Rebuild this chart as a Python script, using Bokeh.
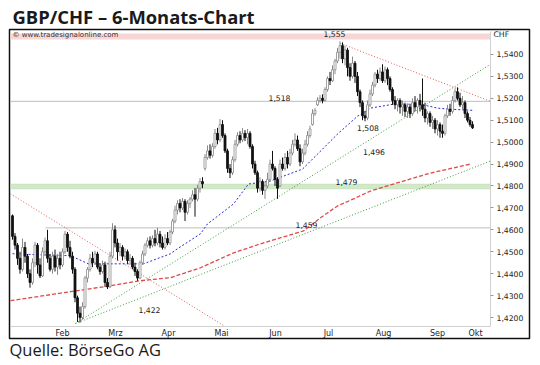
import numpy as np
from bokeh.plotting import figure
from bokeh.models import (Range1d, FixedTicker, CustomJSTickFormatter, BoxAnnotation,
                          Label, Title, ColumnDataSource, LinearAxis)
from bokeh.core.properties import value
from bokeh.embed import file_html
from bokeh.resources import INLINE

# ---------------- data ----------------
opens = [1.4664,1.4570,1.4530,1.4470,1.4420,1.4520,1.4480,1.4400,1.4360,1.4450,
         1.4530,1.4440,1.4390,1.4500,1.4550,1.4470,1.4420,1.4480,1.4430,1.4470,
         1.4440,1.4500,1.4580,1.4520,1.4480,1.4420,1.4290,1.4220,1.4200,1.4250,
         1.4380,1.4420,1.4470,1.4450,1.4490,1.4430,1.4410,1.4440,1.4360,1.4340,
         1.4480,1.4600,1.4540,1.4500,1.4520,1.4480,1.4500,1.4460,1.4470,1.4430,
         1.4410,1.4380,1.4450,1.4490,1.4530,1.4550,1.4530,1.4560,1.4540,1.4580,
         1.4540,1.4520,1.4560,1.4540,1.4590,1.4640,1.4690,1.4720,1.4700,1.4730,
         1.4680,1.4720,1.4740,1.4760,1.4740,1.4790,1.4820,1.4880,1.4930,1.4960,
         1.4940,1.4980,1.5040,1.5010,1.5080,1.5030,1.4960,1.4880,1.4860,1.4920,
         1.4990,1.5030,1.5010,1.5040,1.5020,1.5040,1.4980,1.4900,1.4860,1.4790,
         1.4820,1.4780,1.4800,1.4830,1.4900,1.4880,1.4830,1.4800,1.4900,1.4880,
         1.4930,1.4900,1.4950,1.4990,1.5010,1.4970,1.4910,1.4950,1.4990,1.5030,
         1.5080,1.5130,1.5170,1.5190,1.5200,1.5190,1.5240,1.5290,1.5280,1.5330,
         1.5370,1.5410,1.5440,1.5380,1.5420,1.5340,1.5300,1.5360,1.5300,1.5230,
         1.5180,1.5120,1.5110,1.5170,1.5220,1.5260,1.5310,1.5290,1.5320,1.5280,
         1.5330,1.5290,1.5240,1.5190,1.5170,1.5190,1.5160,1.5170,1.5140,1.5160,
         1.5130,1.5180,1.5160,1.5190,1.5170,1.5150,1.5110,1.5130,1.5090,1.5100,
         1.5060,1.5080,1.5050,1.5040,1.5120,1.5150,1.5140,1.5190,1.5230,1.5200,
         1.5170,1.5180,1.5130,1.5100,1.5080]
highs = [1.4670,1.4585,1.4540,1.4500,1.4560,1.4545,1.4490,1.4420,1.4470,1.4545,
         1.4540,1.4470,1.4520,1.4565,1.4600,1.4490,1.4500,1.4510,1.4490,1.4500,
         1.4515,1.4595,1.4590,1.4550,1.4500,1.4430,1.4300,1.4250,1.4270,1.4390,
         1.4430,1.4490,1.4500,1.4505,1.4500,1.4445,1.4460,1.4455,1.4380,1.4500,
         1.4630,1.4620,1.4560,1.4540,1.4530,1.4515,1.4510,1.4490,1.4480,1.4450,
         1.4420,1.4460,1.4505,1.4540,1.4565,1.4570,1.4575,1.4600,1.4610,1.4595,
         1.4570,1.4580,1.4590,1.4600,1.4650,1.4710,1.4735,1.4740,1.4745,1.4740,
         1.4735,1.4750,1.4780,1.4790,1.4805,1.4836,1.4840,1.4945,1.4985,1.4990,
         1.4995,1.5060,1.5065,1.5105,1.5100,1.5040,1.4970,1.4900,1.4935,1.5010,
         1.5045,1.5050,1.5064,1.5055,1.5060,1.5050,1.4990,1.4915,1.4870,1.4840,
         1.4830,1.4820,1.4860,1.4920,1.4960,1.4890,1.4840,1.4920,1.4930,1.4950,
         1.4960,1.4970,1.5010,1.5040,1.5030,1.4990,1.4970,1.5010,1.5050,1.5075,
         1.5150,1.5155,1.5205,1.5215,1.5218,1.5250,1.5300,1.5320,1.5350,1.5380,
         1.5430,1.5460,1.5455,1.5440,1.5430,1.5360,1.5390,1.5370,1.5320,1.5240,
         1.5190,1.5140,1.5190,1.5240,1.5275,1.5320,1.5330,1.5340,1.5355,1.5345,
         1.5340,1.5300,1.5250,1.5210,1.5200,1.5200,1.5190,1.5180,1.5175,1.5175,
         1.5200,1.5210,1.5200,1.5220,1.5290,1.5180,1.5140,1.5140,1.5120,1.5110,
         1.5100,1.5090,1.5080,1.5130,1.5170,1.5175,1.5210,1.5245,1.5250,1.5225,
         1.5210,1.5190,1.5140,1.5115,1.5095]
lows = [1.4555,1.4510,1.4440,1.4400,1.4410,1.4450,1.4380,1.4336,1.4350,1.4430,
        1.4400,1.4380,1.4385,1.4480,1.4450,1.4410,1.4400,1.4410,1.4395,1.4420,
        1.4430,1.4490,1.4500,1.4470,1.4400,1.4270,1.4180,1.4177,1.4190,1.4240,
        1.4360,1.4410,1.4430,1.4440,1.4420,1.4395,1.4400,1.4340,1.4330,1.4335,
        1.4470,1.4520,1.4460,1.4480,1.4460,1.4465,1.4445,1.4440,1.4420,1.4390,
        1.4368,1.4375,1.4440,1.4480,1.4520,1.4515,1.4520,1.4525,1.4530,1.4520,
        1.4510,1.4510,1.4530,1.4530,1.4580,1.4630,1.4670,1.4680,1.4690,1.4640,
        1.4670,1.4700,1.4730,1.4660,1.4730,1.4770,1.4790,1.4870,1.4920,1.4925,
        1.4930,1.4970,1.4990,1.5000,1.5020,1.4950,1.4860,1.4836,1.4850,1.4910,
        1.4980,1.4995,1.5000,1.5005,1.4990,1.4970,1.4880,1.4850,1.4770,1.4775,
        1.4760,1.4741,1.4790,1.4820,1.4870,1.4800,1.4741,1.4795,1.4870,1.4870,
        1.4880,1.4890,1.4940,1.4980,1.4960,1.4890,1.4900,1.4940,1.4980,1.5020,
        1.5075,1.5120,1.5165,1.5180,1.5177,1.5185,1.5230,1.5260,1.5275,1.5310,
        1.5360,1.5380,1.5360,1.5350,1.5300,1.5280,1.5290,1.5270,1.5210,1.5160,
        1.5100,1.5095,1.5100,1.5160,1.5210,1.5250,1.5270,1.5280,1.5270,1.5270,
        1.5260,1.5230,1.5170,1.5150,1.5140,1.5130,1.5120,1.5115,1.5110,1.5110,
        1.5120,1.5140,1.5130,1.5140,1.5120,1.5090,1.5080,1.5070,1.5060,1.5040,
        1.5030,1.5020,1.5020,1.5030,1.5110,1.5120,1.5130,1.5180,1.5190,1.5160,
        1.5150,1.5110,1.5090,1.5070,1.5060]
closes = [1.4570,1.4530,1.4470,1.4420,1.4520,1.4480,1.4400,1.4360,1.4450,1.4530,
          1.4440,1.4390,1.4500,1.4550,1.4470,1.4420,1.4480,1.4430,1.4470,1.4440,
          1.4500,1.4580,1.4520,1.4480,1.4420,1.4290,1.4220,1.4200,1.4250,1.4380,
          1.4420,1.4470,1.4450,1.4490,1.4430,1.4410,1.4440,1.4360,1.4340,1.4480,
          1.4600,1.4540,1.4500,1.4520,1.4480,1.4500,1.4460,1.4470,1.4430,1.4410,
          1.4380,1.4450,1.4490,1.4530,1.4550,1.4530,1.4560,1.4540,1.4580,1.4540,
          1.4520,1.4560,1.4540,1.4590,1.4640,1.4690,1.4720,1.4700,1.4730,1.4680,
          1.4720,1.4740,1.4760,1.4740,1.4790,1.4820,1.4810,1.4930,1.4960,1.4940,
          1.4980,1.5040,1.5010,1.5080,1.5030,1.4960,1.4880,1.4860,1.4920,1.4990,
          1.5030,1.5010,1.5040,1.5020,1.5040,1.4980,1.4900,1.4860,1.4790,1.4820,
          1.4780,1.4800,1.4830,1.4900,1.4880,1.4830,1.4790,1.4900,1.4880,1.4930,
          1.4900,1.4950,1.4990,1.5010,1.4970,1.4910,1.4950,1.4990,1.5030,1.5060,
          1.5130,1.5145,1.5190,1.5200,1.5190,1.5240,1.5290,1.5280,1.5330,1.5370,
          1.5410,1.5440,1.5380,1.5420,1.5340,1.5300,1.5360,1.5300,1.5230,1.5180,
          1.5120,1.5110,1.5170,1.5220,1.5260,1.5310,1.5290,1.5320,1.5280,1.5330,
          1.5290,1.5240,1.5190,1.5170,1.5190,1.5160,1.5170,1.5140,1.5160,1.5130,
          1.5180,1.5160,1.5190,1.5170,1.5150,1.5110,1.5130,1.5090,1.5100,1.5060,
          1.5080,1.5050,1.5040,1.5120,1.5150,1.5140,1.5190,1.5230,1.5200,1.5170,
          1.5180,1.5130,1.5100,1.5080,1.5065]

# moving averages
ma_fast_x = [0, 11.2, 23.2, 30.4, 39.2, 52.4, 63.2, 66, 75.2, 78, 88.4, 94.4, 103.2,
             116, 124, 130.4, 138, 143.2, 152.4, 163.2, 170, 175.2, 184]
ma_fast_y = [1.4491, 1.4486, 1.4482, 1.4445, 1.4445, 1.4445, 1.4491, 1.4514, 1.4582,
             1.4627, 1.4718, 1.4809, 1.4823, 1.4877, 1.4968, 1.5041, 1.5118, 1.5155,
             1.5173, 1.5173, 1.5155, 1.5150, 1.5145]
ma_slow_x = [-0.8, 23.2, 39.2, 51.2, 63.2, 75.2, 88.4, 99.2, 103.2, 116.4, 123.2, 130,
             136.4, 143.2, 152.4, 167.2, 183.2]
ma_slow_y = [1.4277, 1.4318, 1.4345, 1.4368, 1.4382, 1.4427, 1.4495, 1.4536, 1.4550,
             1.4595, 1.4655, 1.4709, 1.4741, 1.4777, 1.4809, 1.4859, 1.4900]

# trend lines (anchor points)
red_trend_x = [[-0.8, 84.4], [131.2, 191.2]]
red_trend_y = [[1.4764, 1.4164], [1.5450, 1.5186]]
green_trend_x = [[25.2, 191.2], [25.2, 191.2]]
green_trend_y = [[1.4173, 1.5355], [1.4173, 1.4914]]

# horizontal levels
level_y = [1.5186, 1.4609]
level_start = [-0.8, 13.2]
support_zone = [1.4786, 1.4809]
top_zone = [1.5468, 1.5495]

# annotations
ann_text = ["1,555", "1,518", "1,508", "1,496", "1,479", "1,459", "1,422"]
ann_x = [128.8, 106.8, 142.2, 144.6, 133.6, 117.6, 54.8]
ann_y = [1.5491, 1.5202, 1.5066, 1.4957, 1.4820, 1.4620, 1.4234]

# axes
month_labels = ["Feb", "Mrz", "Apr", "Mai", "Jun", "Jul", "Aug", "Sep", "Okt"]
month_pos = [20.0, 41.2, 62.4, 83.6, 105.2, 126.4, 148.4, 170.0, 185.2]
y_ticks = [1.42, 1.43, 1.44, 1.45, 1.46, 1.47, 1.48, 1.49, 1.50, 1.51, 1.52, 1.53, 1.54]

# data area (index / price) inside the framed box
DX0, DX1 = -0.8, 191.2
DY0, DY1 = 1.41591, 1.55045

def fx(px):  # picture pixel -> data x (for text placement)
    return DX0 + (px - 10) / 2.5
def fy(py):
    return DY1 - (py - 30) / 2200.0

# ---------------- figure ----------------
p = figure(width=540, height=365, output_backend="svg", toolbar_location=None,
           x_range=Range1d(fx(9), fx(529)), y_range=Range1d(fy(338), fy(28)),
           x_axis_location=None, y_axis_location=None,
           min_border_left=9, min_border_top=28, min_border_right=11, min_border_bottom=27)
p.outline_line_color = "#111111"
p.outline_line_width = 1.5
p.xgrid.visible = False
p.ygrid.visible = False
p.background_fill_color = "white"
p.border_fill_color = "white"

FONT = "DejaVu Sans"

# title & source
p.title = Title(text="GBP/CHF – 6-Monats-Chart", align="left", offset=3, standoff=2,
                text_font="Open Sans", text_font_style="bold", text_font_size="18.4px",
                text_color="#1a1a1a")
p.add_layout(Title(text="Quelle: BörseGo AG", align="left", offset=0, standoff=-6,
                   text_font="Open Sans", text_font_style="normal", text_font_size="16.5px",
                   text_color="#1a1a1a"), "below")

# bands
p.add_layout(BoxAnnotation(left=DX0, right=DX1, bottom=top_zone[0], top=top_zone[1],
                           fill_color="#f8d6d6", fill_alpha=1, line_color=None,
                           level="underlay"))
p.add_layout(BoxAnnotation(left=DX0, right=DX1, bottom=support_zone[0], top=support_zone[1],
                           fill_color="#d3e8c9", fill_alpha=1, line_color="#a6cc96",
                           line_width=1, level="underlay"))

# horizontal levels
p.segment(x0=level_start, y0=level_y, x1=[DX1] * len(level_y), y1=level_y,
          line_color="#bdbdbd", line_width=1)

# trend lines
p.multi_line(red_trend_x, red_trend_y, line_color="#e05a5a", line_width=1, line_dash="1 2")
p.multi_line(green_trend_x, green_trend_y, line_color="#3c9a3c", line_width=1, line_dash="1 2")

# moving averages
p.line(ma_slow_x, ma_slow_y, line_color="#e04848", line_width=1.3, line_dash="4 2")
p.line(ma_fast_x, ma_fast_y, line_color="#2b2bd0", line_width=1, line_dash="2 2")

# candles
idx = np.arange(len(closes))
o = np.array(opens); c = np.array(closes)
hi = np.array(highs); lo = np.array(lows)
up = c >= o
src_up = ColumnDataSource(dict(x=idx[up], h=hi[up], l=lo[up], t=c[up], b=o[up]))
src_dn = ColumnDataSource(dict(x=idx[~up], h=hi[~up], l=lo[~up], t=o[~up], b=c[~up]))
p.segment(x0="x", y0="l", x1="x", y1="h", source=src_up, line_color="#8a8a8a", line_width=1)
p.vbar(x="x", top="t", bottom="b", width=0.8, source=src_up, fill_color="white",
       line_color="#8a8a8a", line_width=0.8)
p.segment(x0="x", y0="l", x1="x", y1="h", source=src_dn, line_color="#111111", line_width=1)
p.vbar(x="x", top="t", bottom="b", width=0.8, source=src_dn, fill_color="#111111",
       line_color="#111111", line_width=0.8)

# annotation numbers
p.text(x=ann_x, y=ann_y, text=ann_text, text_font=value(FONT), text_font_size="7.7px",
       text_color="#222222", text_align="center", text_baseline="middle")

# axes (fixed inside the framed box)
yax = LinearAxis(fixed_location=DX1, bounds=(DY0, DY1))
yax.ticker = FixedTicker(ticks=y_ticks)
yax.formatter = CustomJSTickFormatter(code="return tick.toFixed(4).replace('.', ',');")
yax.major_label_text_font = FONT
yax.major_label_text_font_size = "7.7px"
yax.major_label_text_color = "#222222"
yax.major_tick_out = 3
yax.major_tick_in = 0
yax.major_tick_line_color = "#999999"
yax.minor_tick_line_color = None
yax.minor_tick_out = 0
yax.major_label_standoff = 3
yax.axis_line_color = "#d0d0d0"
p.add_layout(yax, "right")

xax = LinearAxis(fixed_location=DY0, bounds=(DX0, DX1))
xax.ticker = FixedTicker(ticks=month_pos)
xax.major_label_overrides = {pos: lab for pos, lab in zip(month_pos, month_labels)}
xax.major_label_text_font = FONT
xax.major_label_text_font_size = "8px"
xax.major_label_text_color = "#222222"
xax.major_tick_line_color = None
xax.minor_tick_line_color = None
xax.major_tick_out = 0
xax.major_tick_in = 0
xax.minor_tick_out = 0
xax.major_label_standoff = 2
xax.axis_line_color = "#d0d0d0"
p.add_layout(xax, "below")

# texts inside the box
p.add_layout(Label(x=fx(12), y=fy(34), text="© www.tradesignalonline.com",
                   text_font=FONT, text_font_size="7px", text_color="#333333",
                   text_baseline="middle"))
p.add_layout(Label(x=fx(493), y=fy(33), text="CHF", text_font=FONT, text_font_size="7.7px",
                   text_color="#222222", text_baseline="middle"))

open("out.html", "w").write(file_html(p, INLINE))
